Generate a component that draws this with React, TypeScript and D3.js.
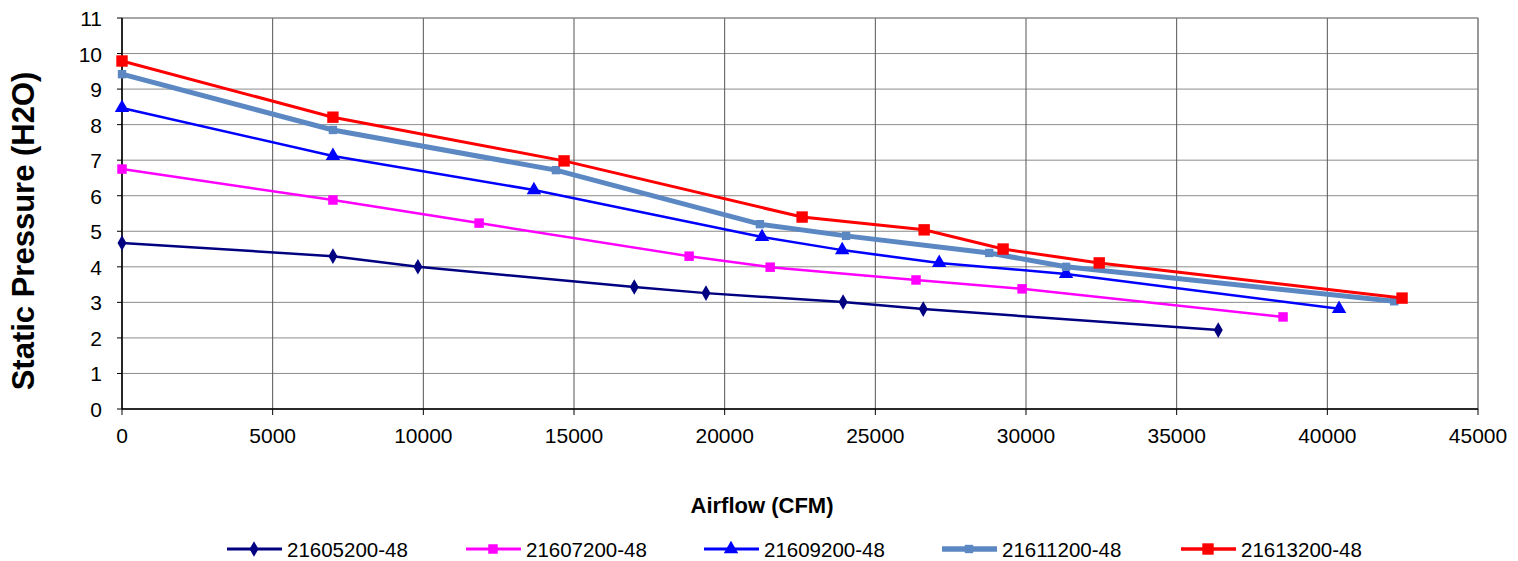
import * as d3 from 'd3';

const seriesNames = ['21605200-48', '21607200-48', '21609200-48', '21611200-48', '21613200-48'];
const colors = ['#000080', '#ff00ff', '#0000ff', '#5b88c2', '#ff0000'];
const markers = ['diamond', 'square', 'triangle', 'square', 'square'];

const airflow605 = [0, 7000, 9820, 17000, 19380, 23930, 26590, 36380];
const pressure605 = [4.67, 4.3, 4.0, 3.43, 3.26, 3.01, 2.81, 2.22];
const airflow607 = [0, 7000, 11850, 18820, 21510, 26350, 29870, 38530];
const pressure607 = [6.75, 5.88, 5.23, 4.3, 3.99, 3.63, 3.38, 2.59];
const airflow609 = [0, 7000, 13670, 21240, 23900, 27120, 31330, 40390];
const pressure609 = [8.47, 7.12, 6.16, 4.84, 4.47, 4.11, 3.8, 2.82];
const airflow611 = [0, 7000, 14400, 21170, 24030, 28780, 31330, 42220];
const pressure611 = [9.42, 7.85, 6.72, 5.2, 4.87, 4.39, 4.0, 3.03];
const airflow613 = [0, 7000, 14670, 22570, 26620, 29240, 32430, 42480];
const pressure613 = [9.79, 8.21, 6.98, 5.4, 5.04, 4.5, 4.11, 3.12];

const xTicks = d3.range(0, 45001, 5000);
const yTicks = d3.range(0, 12, 1);

const allX = [airflow605, airflow607, airflow609, airflow611, airflow613];
const allY = [pressure605, pressure607, pressure609, pressure611, pressure613];

const MARGIN = { top: 18, left: 122, right: 40, bottom: 152 };
const W = 1518;
const H = 561;

const lineWidths = [2.5, 2.5, 2.5, 5, 3];
const markerSizes = [70, 90, 90, 70, 130];

function markerPath(kind: string, size: number) {
  const type = kind === 'diamond' ? d3.symbolDiamond : kind === 'triangle' ? d3.symbolTriangle : d3.symbolSquare;
  return d3.symbol().type(type).size(size)()!;
}

export default function App() {
  const innerW = W - MARGIN.left - MARGIN.right;
  const innerH = H - MARGIN.top - MARGIN.bottom;
  const x = d3.scaleLinear().domain([0, 45000]).range([MARGIN.left, MARGIN.left + innerW]);
  const y = d3.scaleLinear().domain([0, 11]).range([MARGIN.top + innerH, MARGIN.top]);
  const line = d3.line<[number, number]>().x(d => x(d[0])).y(d => y(d[1]));
  const font = 'Liberation Sans, Arial, sans-serif';

  const legendX = [227, 466, 704, 942, 1181];

  return (
    <svg width={W} height={H} style={{ position: 'absolute', left: 0, top: 0, fontFamily: font }}>
      <rect x={0} y={0} width={W} height={H} fill="#fff" />
      {/* grid */}
      {yTicks.map(t => (
        <line key={'gy' + t} x1={x(0)} x2={x(45000)} y1={y(t)} y2={y(t)} stroke="#8c8c8c" strokeWidth={1} />
      ))}
      {xTicks.map(t => (
        <line key={'gx' + t} x1={x(t)} x2={x(t)} y1={y(0)} y2={y(11)} stroke="#555" strokeWidth={1} />
      ))}
      <rect x={x(0)} y={y(11)} width={x(45000) - x(0)} height={y(0) - y(11)} fill="none" stroke="#888" strokeWidth={1} />
      {/* axes */}
      <line x1={x(0)} x2={x(45000)} y1={y(0)} y2={y(0)} stroke="#000" strokeWidth={1.5} />
      <line x1={x(0)} x2={x(0)} y1={y(0)} y2={y(11)} stroke="#000" strokeWidth={1.5} />
      {xTicks.map(t => (
        <g key={'tx' + t}>
          <line x1={x(t)} x2={x(t)} y1={y(0)} y2={y(0) + 6} stroke="#000" />
          <text x={x(t)} y={y(0) + 34} textAnchor="middle" fontSize={21}>{t}</text>
        </g>
      ))}
      {yTicks.map(t => (
        <g key={'ty' + t}>
          <line x1={x(0) - 5} x2={x(0)} y1={y(t)} y2={y(t)} stroke="#000" />
          <text x={x(0) - 20} y={y(t) + 8} textAnchor="end" fontSize={21}>{t}</text>
        </g>
      ))}
      {/* series */}
      {seriesNames.map((name, i) => {
        const pts = allX[i].map((v, j) => [v, allY[i][j]] as [number, number]);
        return (
          <g key={name}>
            <path d={line(pts)!} fill="none" stroke={colors[i]} strokeWidth={lineWidths[i]} />
            {pts.map((p, j) => (
              <path key={j} d={markerPath(markers[i], markerSizes[i])} transform={`translate(${x(p[0])},${y(p[1])})`} fill={colors[i]} />
            ))}
          </g>
        );
      })}
      {/* titles */}
      <text x={762} y={513} textAnchor="middle" fontSize={22} fontWeight="bold">Airflow (CFM)</text>
      <text transform={`translate(34,231) rotate(-90)`} textAnchor="middle" fontSize={31} fontWeight="bold">Static Pressure (H2O)</text>
      {/* legend */}
      {seriesNames.map((name, i) => (
        <g key={'lg' + name} transform={`translate(${legendX[i]},549)`}>
          <line x1={0} x2={55} y1={0} y2={0} stroke={colors[i]} strokeWidth={lineWidths[i] + 0.5} />
          <path d={markerPath(markers[i], markerSizes[i])} transform="translate(27,0)" fill={colors[i]} />
          <text x={60} y={8} fontSize={20.5}>{name}</text>
        </g>
      ))}
    </svg>
  );
}
